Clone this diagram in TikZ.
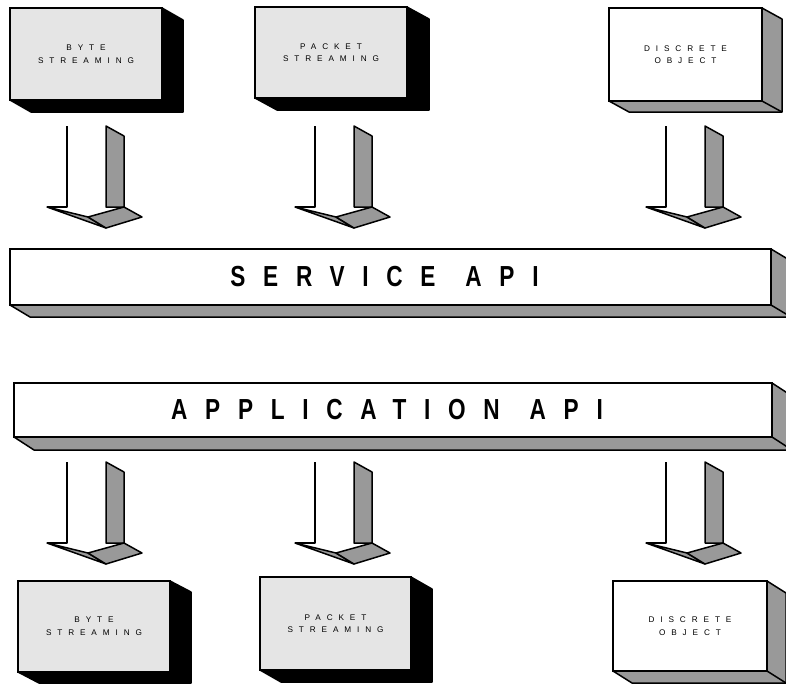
\documentclass[tikz,border=0pt]{standalone}
\usepackage{fontspec}
\setmainfont{Liberation Sans}
\newfontfamily\smallf[LetterSpace=72]{Liberation Sans}
\newfontfamily\bigf[LetterSpace=61,FakeStretch=0.78]{Liberation Sans Bold}
\definecolor{dg}{gray}{0.6}
\definecolor{lg}{gray}{0.9}
\tikzset{
  ln/.style={line width=1.5pt,line join=round},
  frontbox/.style={draw,line width=1.5pt,outer sep=0pt,inner sep=0pt,align=center,
    font=\smallf\fontsize{8.2}{12.6}\selectfont},
  barbox/.style={draw,line width=1.5pt,outer sep=0pt,inner sep=0pt,fill=white},
  bartext/.style={font=\bigf\fontsize{29}{30}\selectfont,inner sep=0pt},
  fatarrow/.pic={
    \draw[ln] (0,0) -- (0,81) -- (-20,81);
    \filldraw[ln,fill=dg] (39,0) -- (57,10) -- (57,81) -- (39,81) -- cycle;
    \filldraw[ln,fill=dg] (-20,81) -- (21,91) -- (39,102) -- cycle;
    \filldraw[ln,fill=dg] (21,91) -- (57,81) -- (75,91) -- (39,102) -- cycle;
  }
}
\newcommand{\depthof}[4]{% node, dx, dy, fill
  \filldraw[ln,fill=#4,draw=black] (#1.north east) -- ([shift={(#2,#3)}]#1.north east)
    -- ([shift={(#2,#3)}]#1.south east) -- ([shift={(#2,#3)}]#1.south west)
    -- (#1.south west) -- cycle;
  \draw[ln] (#1.south east) -- ([shift={(#2,#3)}]#1.south east);
}
\begin{document}
\begin{tikzpicture}[x=1pt,y=-1pt]
\useasboundingbox (0,0) rectangle (786,683);
\clip (0,0) rectangle (786,683);
\fill[white] (0,0) rectangle (786,683);

% top boxes
\node[frontbox,fill=lg,minimum width=152pt,minimum height=92pt] (b1) at (86,54) {};
\depthof{b1}{21}{12}{black}
\node[frontbox,fill=lg,minimum width=152pt,minimum height=92pt] (b1) at (86,54) {BYTE\\STREAMING};

\node[frontbox,fill=lg,minimum width=152pt,minimum height=91pt] (b2) at (331,52.5) {};
\depthof{b2}{22}{12}{black}
\node[frontbox,fill=lg,minimum width=152pt,minimum height=91pt] (b2) at (331,52.5) {PACKET\\STREAMING};

\node[frontbox,fill=white,minimum width=153pt,minimum height=93pt] (b3) at (685.5,54.5) {};
\depthof{b3}{20}{11}{dg}
\node[frontbox,fill=white,minimum width=153pt,minimum height=93pt] (b3) at (685.5,54.5) {DISCRETE\\OBJECT};

% top arrows
\pic at (67,126) {fatarrow};
\pic at (315,126) {fatarrow};
\pic at (666,126) {fatarrow};

% service api
\node[barbox,minimum width=761pt,minimum height=56pt] (sapi) at (390.5,277) {};
\depthof{sapi}{20}{12}{dg}
\node[barbox,minimum width=761pt,minimum height=56pt] (sapi) at (390.5,277) {};
\node[bartext] (stext) at ([xshift=-6pt]sapi.center) {SERVICE\hspace{6pt} API};

% application api
\node[barbox,minimum width=758pt,minimum height=54pt] (aapi) at (393,410) {};
\depthof{aapi}{20}{13}{dg}
\node[barbox,minimum width=758pt,minimum height=54pt] (aapi) at (393,410) {};
\node[bartext] (atext) at ([xshift=-6pt]aapi.center) {APPLICATION\hspace{6pt} API};

% bottom arrows
\pic at (67,462) {fatarrow};
\pic at (315,462) {fatarrow};
\pic at (666,462) {fatarrow};

% bottom boxes
\node[frontbox,fill=lg,minimum width=152pt,minimum height=91pt] (c1) at (94,626.5) {};
\depthof{c1}{21}{11}{black}
\node[frontbox,fill=lg,minimum width=152pt,minimum height=91pt] (c1) at (94,626.5) {BYTE\\STREAMING};

\node[frontbox,fill=lg,minimum width=151pt,minimum height=93pt] (c2) at (335.5,623.5) {};
\depthof{c2}{21}{12}{black}
\node[frontbox,fill=lg,minimum width=151pt,minimum height=93pt] (c2) at (335.5,623.5) {PACKET\\STREAMING};

\node[frontbox,fill=white,minimum width=154pt,minimum height=90pt] (c3) at (690,626) {};
\depthof{c3}{19}{12}{dg}
\node[frontbox,fill=white,minimum width=154pt,minimum height=90pt] (c3) at (690,626) {DISCRETE\\OBJECT};
\end{tikzpicture}
\end{document}
